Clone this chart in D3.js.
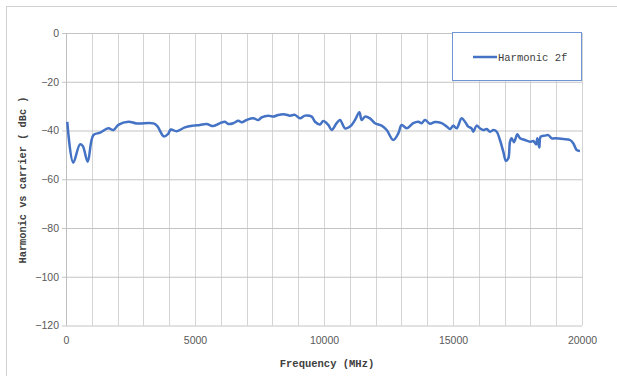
<!DOCTYPE html>
<html>
<head>
<meta charset="utf-8">
<script src="https://cdn.jsdelivr.net/npm/d3@7"></script>
<style>
    body { margin: 0; background: #fff; }
    svg { display: block; }
</style>
</head>
<body>
<svg id="chart" width="617" height="376"></svg>
<script>
// frequency (MHz) and harmonic level (dBc)
const freqs = [
    50, 280, 540, 650, 840, 1060, 1320, 1640, 1840, 2030, 2420, 2740, 3390, 3540,
    3790, 3950, 4060, 4290, 4610, 4935, 5190, 5450, 5710, 5970, 6160, 6290, 6485,
    6680, 6810, 7000, 7260, 7455, 7585, 7840, 8035, 8230, 8490, 8680, 8875, 9070,
    9265, 9525, 9650, 9845, 9975, 10165, 10300, 10490, 10620, 10815, 11010, 11200,
    11370, 11460, 11590, 11780, 11975, 12235, 12430, 12685, 12880, 13010, 13205,
    13460, 13655, 13785, 13915, 14110, 14300, 14560, 14755, 14885, 15010, 15140,
    15335, 15465, 15590, 15720, 15785, 15915, 16045, 16175, 16305, 16435, 16565,
    16695, 16820, 16950, 17050, 17145, 17210, 17275, 17365, 17495, 17600, 17790,
    17985, 18115, 18220, 18270, 18345, 18400, 18565, 18695, 18825, 18955, 19275,
    19535, 19665, 19795, 19920
];
const harmonic2f = [
    -36.5, -53.2, -45.7, -46.4, -52.8, -41.9, -40.9, -39.1, -39.8, -37.7, -36.4, -37.1, -37.1, -38.2,
    -42.4, -41.5, -39.6, -40.3, -38.7, -38.0, -37.7, -37.3, -38.2, -37.0, -36.4, -37.3, -37.0,
    -36.0, -36.6, -35.7, -35.0, -35.7, -34.6, -33.9, -34.3, -33.6, -33.4, -33.9, -33.6, -35.0,
    -33.9, -34.3, -36.4, -37.5, -36.1, -37.7, -39.8, -37.0, -35.7, -39.1, -38.4, -35.7,
    -32.5, -35.7, -34.3, -35.0, -37.0, -38.0, -39.8, -43.9, -41.2, -37.7, -39.1,
    -37.0, -36.4, -37.0, -35.7, -37.2, -36.5, -37.0, -38.4, -39.4, -38.0, -39.1,
    -35.0, -36.4, -38.4, -39.1, -40.5, -38.0, -39.1, -39.8, -39.4, -40.5, -39.8,
    -40.5, -43.9, -48.7, -52.5, -51.4, -44.6, -43.2, -44.8, -41.5, -43.2, -43.9,
    -44.6, -44.3, -45.7, -43.2, -47.0, -42.5, -42.1, -41.9, -43.2, -43.2, -43.5,
    -43.9, -45.3, -48.0, -48.4
];
const xTicks = [0, 5000, 10000, 15000, 20000];
const yTicks = [0, -20, -40, -60, -80, -100, -120];
const seriesName = "Harmonic 2f";

const svg = d3.select("#chart");
const data = freqs.map((f, i) => ({ f: f, v: harmonic2f[i] }));

const x = d3.scaleLinear().domain([0, 20000]).range([66, 582]);
const y = d3.scaleLinear().domain([-120, 0]).range([325.5, 33]);

// outer chart border
svg.append("rect")
    .attr("x", 6.5).attr("y", 6.5)
    .attr("width", 640).attr("height", 400)
    .attr("fill", "none")
    .attr("stroke", "#d0d0d0");

// vertical grid every 1000 MHz
svg.append("g")
    .selectAll("line")
    .data(d3.range(1000, 20001, 1000))
    .join("line")
    .attr("x1", (d) => Math.round(x(d)) + 0.5)
    .attr("x2", (d) => Math.round(x(d)) + 0.5)
    .attr("y1", y(0))
    .attr("y2", y(-120))
    .attr("stroke", "#d4d4d4");

// horizontal grid + y ticks
const yAxis = d3.axisLeft(y).tickValues(yTicks).tickSize(-(582 - 66)).tickPadding(7);
svg.append("g")
    .attr("transform", "translate(66,0)")
    .call(yAxis)
    .call((g) => g.select(".domain").remove())
    .call((g) => g.selectAll(".tick line").attr("stroke", "#c4c4c4").attr("x1", -4))
    .call((g) => g.selectAll(".tick text")
        .attr("fill", "#595959")
        .attr("font-family", "Liberation Sans, Arial, sans-serif")
        .attr("font-size", 10.5));

// left axis line
svg.append("line")
    .attr("x1", 66.5).attr("x2", 66.5)
    .attr("y1", y(0)).attr("y2", y(-120))
    .attr("stroke", "#bfbfbf");

const xAxis = d3.axisBottom(x).tickValues(xTicks).tickFormat(d3.format("d")).tickSize(0).tickPadding(11);
svg.append("g")
    .attr("transform", `translate(0,${y(-120)})`)
    .call(xAxis)
    .call((g) => g.select(".domain").remove())
    .call((g) => g.selectAll(".tick text")
        .attr("fill", "#595959")
        .attr("font-family", "Liberation Sans, Arial, sans-serif")
        .attr("font-size", 10.5));

// the series
const line = d3.line()
    .x((d) => x(d.f))
    .y((d) => y(d.v))
    .curve(d3.curveCatmullRom.alpha(0.5));

svg.append("path")
    .datum(data)
    .attr("d", line)
    .attr("fill", "none")
    .attr("stroke", "#4472c4")
    .attr("stroke-width", 2.5)
    .attr("stroke-linejoin", "round");

// axis titles
svg.append("text")
    .attr("x", 327)
    .attr("y", 367)
    .attr("text-anchor", "middle")
    .attr("font-family", "Liberation Mono, monospace")
    .attr("font-weight", "bold")
    .attr("font-size", 10.5)
    .attr("fill", "#404040")
    .text("Frequency (MHz)");

svg.append("text")
    .attr("transform", "translate(26,180) rotate(-90)")
    .attr("text-anchor", "middle")
    .attr("font-family", "Liberation Mono, monospace")
    .attr("font-weight", "bold")
    .attr("font-size", 10.3)
    .attr("fill", "#404040")
    .text("Harmonic vs carrier ( dBc )");

// legend box
const legend = svg.append("g");
legend.append("rect")
    .attr("x", 452.5).attr("y", 32.5)
    .attr("width", 129).attr("height", 48)
    .attr("fill", "#fff")
    .attr("stroke", "#6f95d6");
legend.append("line")
    .attr("x1", 473).attr("x2", 497)
    .attr("y1", 57).attr("y2", 57)
    .attr("stroke", "#4472c4")
    .attr("stroke-width", 2.5);
legend.append("text")
    .attr("x", 498)
    .attr("y", 60.5)
    .attr("font-family", "Liberation Mono, monospace")
    .attr("font-size", 10.5)
    .attr("fill", "#404040")
    .text(seriesName);
</script>
</body>
</html>
